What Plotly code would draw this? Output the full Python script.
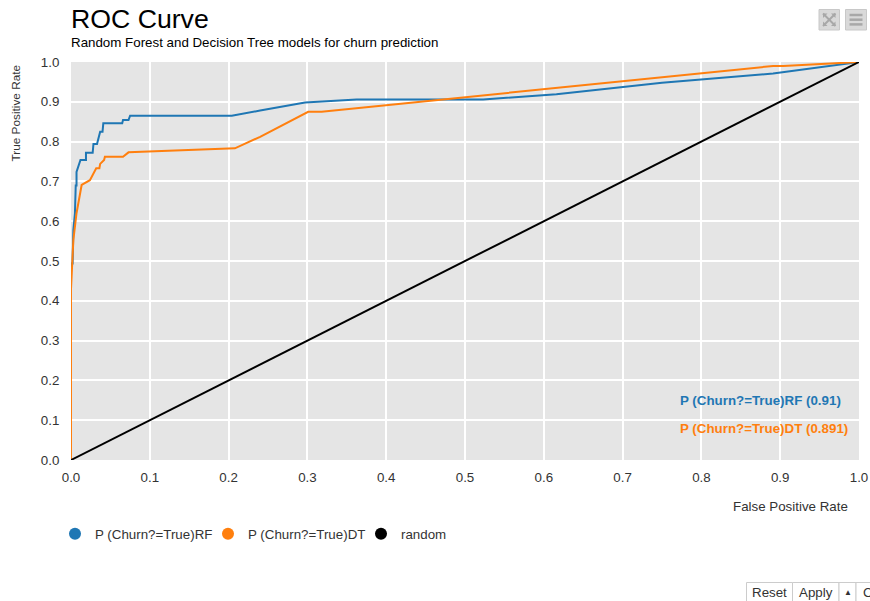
import plotly.graph_objects as go

# ---------------- data ----------------
rf_fpr = [0.0, 0.0, 0.002, 0.003, 0.005, 0.006, 0.007, 0.007, 0.012, 0.019, 0.019,
          0.0275, 0.0285, 0.033, 0.037, 0.040, 0.041, 0.065, 0.066, 0.073, 0.075,
          0.204, 0.24, 0.297, 0.3625, 0.523, 0.616, 0.75, 0.891, 1.0]
rf_tpr = [0.0, 0.494, 0.494, 0.578, 0.62, 0.69, 0.69, 0.724, 0.754, 0.754, 0.772,
          0.772, 0.794, 0.794, 0.825, 0.825, 0.846, 0.846, 0.854, 0.854, 0.865,
          0.865, 0.878, 0.898, 0.906, 0.906, 0.919, 0.948, 0.971, 1.0]

dt_fpr = [0.0, 0.0, 0.003, 0.007, 0.0135, 0.024, 0.032, 0.036, 0.037, 0.042, 0.043,
          0.066, 0.073, 0.208, 0.24, 0.301, 0.318, 0.891, 0.904, 1.0]
dt_tpr = [0.0, 0.43, 0.553, 0.62, 0.691, 0.703, 0.733, 0.733, 0.744, 0.754, 0.762,
          0.762, 0.773, 0.783, 0.812, 0.875, 0.875, 0.990, 0.990, 1.0]

rand_fpr = [0.0, 1.0]
rand_tpr = [0.0, 1.0]

names = ["P (Churn?=True)RF", "P (Churn?=True)DT", "random"]
colors = ["#1f77b4", "#ff7f0e", "#000000"]
auc_labels = ["P (Churn?=True)RF (0.91)", "P (Churn?=True)DT (0.891)"]
x_ticks = [0.0, 0.1, 0.2, 0.3, 0.4, 0.5, 0.6, 0.7, 0.8, 0.9, 1.0]
y_ticks = [0.0, 0.1, 0.2, 0.3, 0.4, 0.5, 0.6, 0.7, 0.8, 0.9, 1.0]

FONT = "Liberation Sans, Arial, sans-serif"
FS = 13.33

# plot area geometry (pixels) used for placing decorations
L, R, T, B = 71, 859, 62, 460
def px2x(px):
    return (px - L) / (R - L)
def py2y(py):
    return (B - py) / (B - T)

fig = go.Figure()
series = [(rf_fpr, rf_tpr), (dt_fpr, dt_tpr), (rand_fpr, rand_tpr)]
for (xs, ys), n, c in zip(series, names, colors):
    fig.add_trace(go.Scatter(x=xs, y=ys, mode="lines", name=n, legendgroup=n,
                             line=dict(color=c, width=2), showlegend=False,
                             hoverinfo="x+y+name"))
for n, c in zip(names, colors):
    fig.add_trace(go.Scatter(x=[None], y=[None], mode="markers", name=n, legendgroup=n,
                             marker=dict(color=c, size=11), showlegend=True))

annotations = [
    dict(text="ROC Curve", xref="paper", yref="paper", x=px2x(69), y=py2y(19),
         xanchor="left", yanchor="middle", showarrow=False,
         font=dict(family=FONT, size=26.67, color="#000000")),
    dict(text="Random Forest and Decision Tree models for churn prediction",
         xref="paper", yref="paper", x=px2x(69), y=py2y(42), xanchor="left",
         yanchor="middle", showarrow=False, font=dict(family=FONT, size=FS, color="#000000")),
    dict(text="True Positive Rate", xref="paper", yref="paper", x=px2x(15), y=1.0,
         xanchor="center", yanchor="top", textangle=-90, showarrow=False,
         font=dict(family=FONT, size=11.8, color="#333333")),
    dict(text="False Positive Rate", xref="paper", yref="paper", x=px2x(850), y=py2y(507),
         xanchor="right", yanchor="middle", showarrow=False,
         font=dict(family=FONT, size=FS, color="#333333")),
]
for lab, c, py in zip(auc_labels, colors[:2], [400, 428]):
    annotations.append(dict(text="<b>" + lab + "</b>", xref="paper", yref="paper",
                            x=px2x(678), y=py2y(py), xanchor="left", yanchor="middle",
                            showarrow=False, font=dict(family=FONT, size=FS, color=c)))

# bottom-right control buttons
btns = [("Reset", 746.5, 792.5), ("Apply", 792.5, 839), ("\u25B2", 839, 856), ("C", 856, 880)]
shapes = []
for txt, a, b in btns:
    shapes.append(dict(type="rect", xref="paper", yref="paper", x0=px2x(a), x1=px2x(b),
                       y0=py2y(610), y1=py2y(582.5), line=dict(color="#cccccc", width=1),
                       fillcolor="#ffffff", layer="above"))
    annotations.append(dict(text=txt, xref="paper", yref="paper", x=px2x((a + b) / 2),
                            y=py2y(592.5), xanchor="center", yanchor="middle", showarrow=False,
                            font=dict(family=FONT, size=FS if txt != "\u25B2" else 8,
                                      color="#333333")))

# top-right icon buttons
for a, b in [(819, 839.5), (845.5, 866.5)]:
    shapes.append(dict(type="rect", xref="paper", yref="paper", x0=px2x(a), x1=px2x(b),
                       y0=py2y(30), y1=py2y(9.5), line=dict(color="#c8c8c8", width=1),
                       fillcolor="#d9d9d9", layer="above"))
# hamburger lines
for yy in [15, 19.7, 24.4]:
    shapes.append(dict(type="line", xref="paper", yref="paper", x0=px2x(849.5), x1=px2x(862.5),
                       y0=py2y(yy), y1=py2y(yy), line=dict(color="#a8a8a8", width=2.5)))
# expand icon (diagonals + corner marks)
shapes.append(dict(type="line", xref="paper", yref="paper", x0=px2x(823), x1=px2x(835.5),
                   y0=py2y(13.5), y1=py2y(26), line=dict(color="#a8a8a8", width=2)))
shapes.append(dict(type="line", xref="paper", yref="paper", x0=px2x(823), x1=px2x(835.5),
                   y0=py2y(26), y1=py2y(13.5), line=dict(color="#a8a8a8", width=2)))
for cx, cy, dx, dy in [(823, 13.5, 1, 1), (835.5, 13.5, -1, 1), (823, 26, 1, -1), (835.5, 26, -1, -1)]:
    shapes.append(dict(type="path", xref="paper", yref="paper",
                       path="M %f %f L %f %f L %f %f Z" % (px2x(cx), py2y(cy), px2x(cx + 4.5 * dx), py2y(cy),
                                                          px2x(cx), py2y(cy + 4.5 * dy)),
                       fillcolor="#a8a8a8", line=dict(width=0)))

fig.update_layout(
    width=870, height=601, autosize=False,
    margin=dict(l=L, r=870 - R, t=T, b=601 - B, pad=0, autoexpand=False),
    paper_bgcolor="#ffffff", plot_bgcolor="#e5e5e5",
    font=dict(family=FONT, size=FS, color="#333333"),
    showlegend=True,
    legend=dict(orientation="h", x=px2x(55), xanchor="left", y=py2y(534), yanchor="middle",
                font=dict(family=FONT, size=FS, color="#333333"), bgcolor="rgba(0,0,0,0)",
                itemsizing="constant", entrywidth=108, entrywidthmode="pixels"),
    xaxis=dict(range=[0, 1], tickvals=x_ticks, tickformat=".1f", showgrid=True,
               gridcolor="#ffffff", gridwidth=1.5, zeroline=False, showline=False,
               ticks="outside", ticklen=5, tickcolor="rgba(0,0,0,0)", automargin=False,
               tickfont=dict(family=FONT, size=FS, color="#333333"), fixedrange=True),
    yaxis=dict(range=[0, 1], tickvals=y_ticks, tickformat=".1f", showgrid=True,
               gridcolor="#ffffff", gridwidth=1.5, zeroline=False, showline=False,
               ticks="outside", ticklen=8, tickcolor="rgba(0,0,0,0)", automargin=False,
               tickfont=dict(family=FONT, size=FS, color="#333333"), fixedrange=True),
    annotations=annotations,
    shapes=shapes,
)

fig.write_html("out.html", config={"displayModeBar": False, "responsive": False},
               post_script="document.body.style.margin='0px';")
